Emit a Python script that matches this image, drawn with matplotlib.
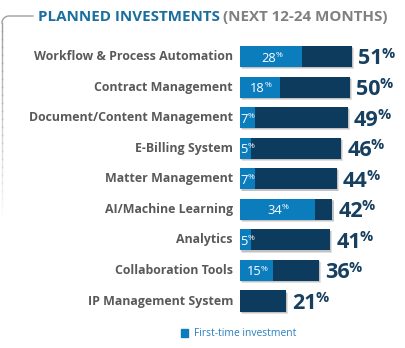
import numpy as np
import matplotlib.pyplot as plt
from matplotlib.patches import Rectangle
from matplotlib.lines import Line2D

plt.rcParams['font.family'] = ['Open Sans', 'DejaVu Sans']

# dados: investimentos planejados (próximos 12-24 meses)
categorias = [
    "Workflow & Process Automation", "Contract Management",
    "Document/Content Management", "E-Billing System", "Matter Management",
    "AI/Machine Learning", "Analytics", "Collaboration Tools",
    "IP Management System",
]
total = [51, 50, 49, 46, 44, 42, 41, 36, 21]
primeira_vez = [28, 18, 7, 5, 7, 34, 5, 15, 0]

azul_claro = '#0b7dbd'
azul_escuro = '#0c3b5d'
cinza_texto = '#595959'

W, H = 405, 348
fig = plt.figure(figsize=(W / 100, H / 100), dpi=100)

# eixo das barras: 1% = 2.2 px, começa em x=240 px
ax = fig.add_axes([240 / W, 1 - 316.3 / H, 165 / W, 275.1 / H])
ax.set_xlim(0, 165 / 2.2)
ax.set_ylim(8.5, -0.5)
ax.axis('off')

y = np.arange(len(categorias))
alt = 0.69

# sombra leve das barras
for dx, dy, a in [(0.9, 0.07, 0.25), (0.5, 0.04, 0.35)]:
    ax.barh(y + dy, total, left=dx, height=alt, color='#8a8a8a', alpha=a, zorder=1)
ax.barh(y, total, height=alt, color=azul_escuro, zorder=2)
ax.barh(y, primeira_vez, height=alt, color=azul_claro, zorder=3)

for i, (nome, t, p) in enumerate(zip(categorias, total, primeira_vez)):
    ax.text(-3.2, i, nome, ha='right', va='center', fontsize=8.9,
            fontweight='bold', color=cinza_texto, clip_on=False)
    num = ax.text(t + 2.8, i + 0.08, str(t), ha='left', va='center', fontsize=15.5,
                  fontweight='bold', color='#163f60', clip_on=False)
    ax.annotate('%', xy=(1, 0.42), xycoords=num, xytext=(-1, 0),
                textcoords='offset points', ha='left', va='bottom',
                fontsize=10.5, fontweight='bold', color='#163f60')
    if p > 0:
        if p >= 12:
            tx, ha = p / 2 - 1, 'center'
        else:
            tx, ha = 0.3, 'left'
        lab = ax.text(tx, i + 0.05, str(p), ha=ha, va='center', fontsize=9.3,
                      color='white', zorder=5)
        ax.annotate('%', xy=(1, 0.45), xycoords=lab, xytext=(-0.5, 0),
                    textcoords='offset points', ha='left', va='bottom',
                    fontsize=6, color='white', zorder=5)

# título
t1 = fig.text(38 / W, 1 - 17 / H, "PLANNED INVESTMENTS", ha='left', va='center',
              fontsize=10.9, fontweight='bold', color='#1b6f9e')
fig.canvas.draw()
bb = t1.get_window_extent()
fig.text(bb.x1 / W + 3 / W, 1 - 17 / H, "(NEXT 12-24 MONTHS)", ha='left',
         va='center', fontsize=10.9, fontweight='bold', color='#808080')

# moldura cinza com canto arredondado, sumindo para baixo
def px(xp, yp):
    return np.asarray(xp) / W, 1 - np.asarray(yp) / H

ang = np.linspace(np.pi / 2, np.pi, 20)
cx, cy, r = 9, 23, 7
xs = np.concatenate([[33], cx + r * np.cos(ang)])
ys = np.concatenate([[16], cy - r * np.sin(ang)])
fx, fy = px(xs, ys)
fig.add_artist(Line2D(fx, fy, color='#a0a0a0', lw=1.0))
ys_v = np.linspace(23, 215, 25)
for k in range(len(ys_v) - 1):
    a = 1 - k / (len(ys_v) - 1)
    fx, fy = px([2, 2], [ys_v[k], ys_v[k + 1]])
    fig.add_artist(Line2D(fx, fy, color='#a0a0a0', lw=1.0, alpha=a))

# legenda
fig.add_artist(Rectangle((181 / W, 1 - 337 / H), 7 / W, 8 / H,
                         transform=fig.transFigure, color=azul_claro))
fig.text(194 / W, 1 - 333 / H, "First-time investment", ha='left', va='center',
         fontsize=7.4, color='#2a7fbd')

fig.savefig('out.png', dpi=100)
